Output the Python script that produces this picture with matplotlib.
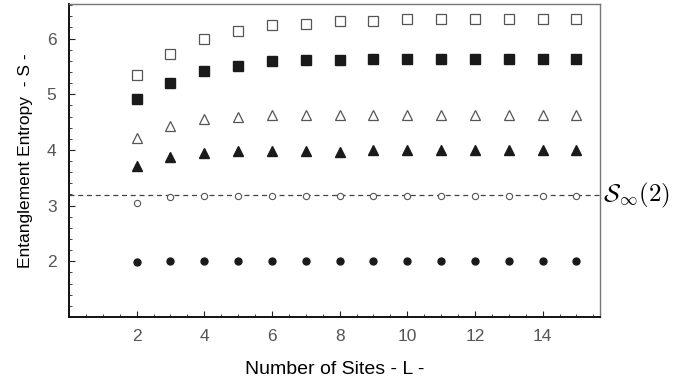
import matplotlib
matplotlib.use("Agg")
import matplotlib.pyplot as plt
from matplotlib.ticker import MultipleLocator

L = list(range(2, 16))
open_sq = [5.34, 5.72, 5.99, 6.13, 6.24, 6.27, 6.31, 6.32, 6.35, 6.35, 6.35, 6.35, 6.35, 6.35]
fill_sq = [4.91, 5.21, 5.41, 5.51, 5.59, 5.62, 5.62, 5.64, 5.64, 5.64, 5.64, 5.64, 5.64, 5.64]
open_tri = [4.21, 4.43, 4.56, 4.60, 4.63, 4.63, 4.63, 4.63, 4.63, 4.63, 4.63, 4.63, 4.63, 4.63]
fill_tri = [3.72, 3.88, 3.94, 3.98, 3.98, 3.98, 3.97, 4.00, 4.00, 4.00, 4.00, 4.00, 4.00, 4.00]
open_circ = [3.04, 3.16, 3.18, 3.18, 3.18, 3.18, 3.18, 3.18, 3.18, 3.18, 3.18, 3.18, 3.18, 3.18]
fill_circ = [1.98, 2.01, 2.01, 2.01, 2.01, 2.01, 2.01, 2.01, 2.01, 2.01, 2.01, 2.01, 2.01, 2.01]
s_inf = 3.185

plt.rcParams['mathtext.fontset'] = 'cm'
fig = plt.figure(figsize=(6.97, 3.84), dpi=100)
ax = fig.add_axes([0.099, 0.1745, 0.762, 0.815])

ax.axhline(s_inf, color='#444444', lw=0.9, ls=(0, (4, 3)), zorder=1)

ax.plot(L, open_sq, ls='none', marker='s', ms=7.5, mfc='white', mec='#555555', mew=0.9, zorder=3)
ax.plot(L, fill_sq, ls='none', marker='s', ms=7.5, mfc='#1a1a1a', mec='#1a1a1a', zorder=3)
ax.plot(L, open_tri, ls='none', marker='^', ms=7.5, mfc='white', mec='#555555', mew=0.9, zorder=3)
ax.plot(L, fill_tri, ls='none', marker='^', ms=7.5, mfc='#1a1a1a', mec='#1a1a1a', zorder=3)
ax.plot(L, open_circ, ls='none', marker='o', ms=4.5, mfc='white', mec='#555555', mew=0.8, zorder=3)
ax.plot(L, fill_circ, ls='none', marker='o', ms=5, mfc='#1a1a1a', mec='#1a1a1a', zorder=3)

ax.set_xlim(0, 15.7)
ax.set_ylim(1.0, 6.62)
ax.set_xticks([2, 4, 6, 8, 10, 12, 14])
ax.set_yticks([2, 3, 4, 5, 6])
ax.xaxis.set_minor_locator(MultipleLocator(0.5))
ax.yaxis.set_minor_locator(MultipleLocator(0.2))
ax.tick_params(which='both', direction='in', top=False, right=False,
               labelsize=12.5, labelcolor='#555555', color='#222222')
ax.tick_params(which='major', length=4, width=0.8)
ax.tick_params(which='minor', length=2, width=0.6)
ax.tick_params(axis='x', pad=9)
ax.tick_params(axis='y', pad=9)
for lab in ax.get_xticklabels() + ax.get_yticklabels():
    lab.set_family('Liberation Sans')

for s in ['left', 'bottom']:
    ax.spines[s].set_color('#111111')
    ax.spines[s].set_linewidth(1.4)
for s in ['top', 'right']:
    ax.spines[s].set_color('#777777')
    ax.spines[s].set_linewidth(1.0)

ax.set_xlabel('Number of Sites - L -', fontsize=14, family='Liberation Sans', labelpad=12)
ax.set_ylabel('Entanglement Entropy  - S -', fontsize=12.5, family='Liberation Sans', labelpad=10)

ax.text(1.005, s_inf, r'$\mathcal{S}_\infty(2)$', transform=ax.get_yaxis_transform(),
        fontsize=18, va='center', ha='left')

fig.savefig('out.png', dpi=100)
